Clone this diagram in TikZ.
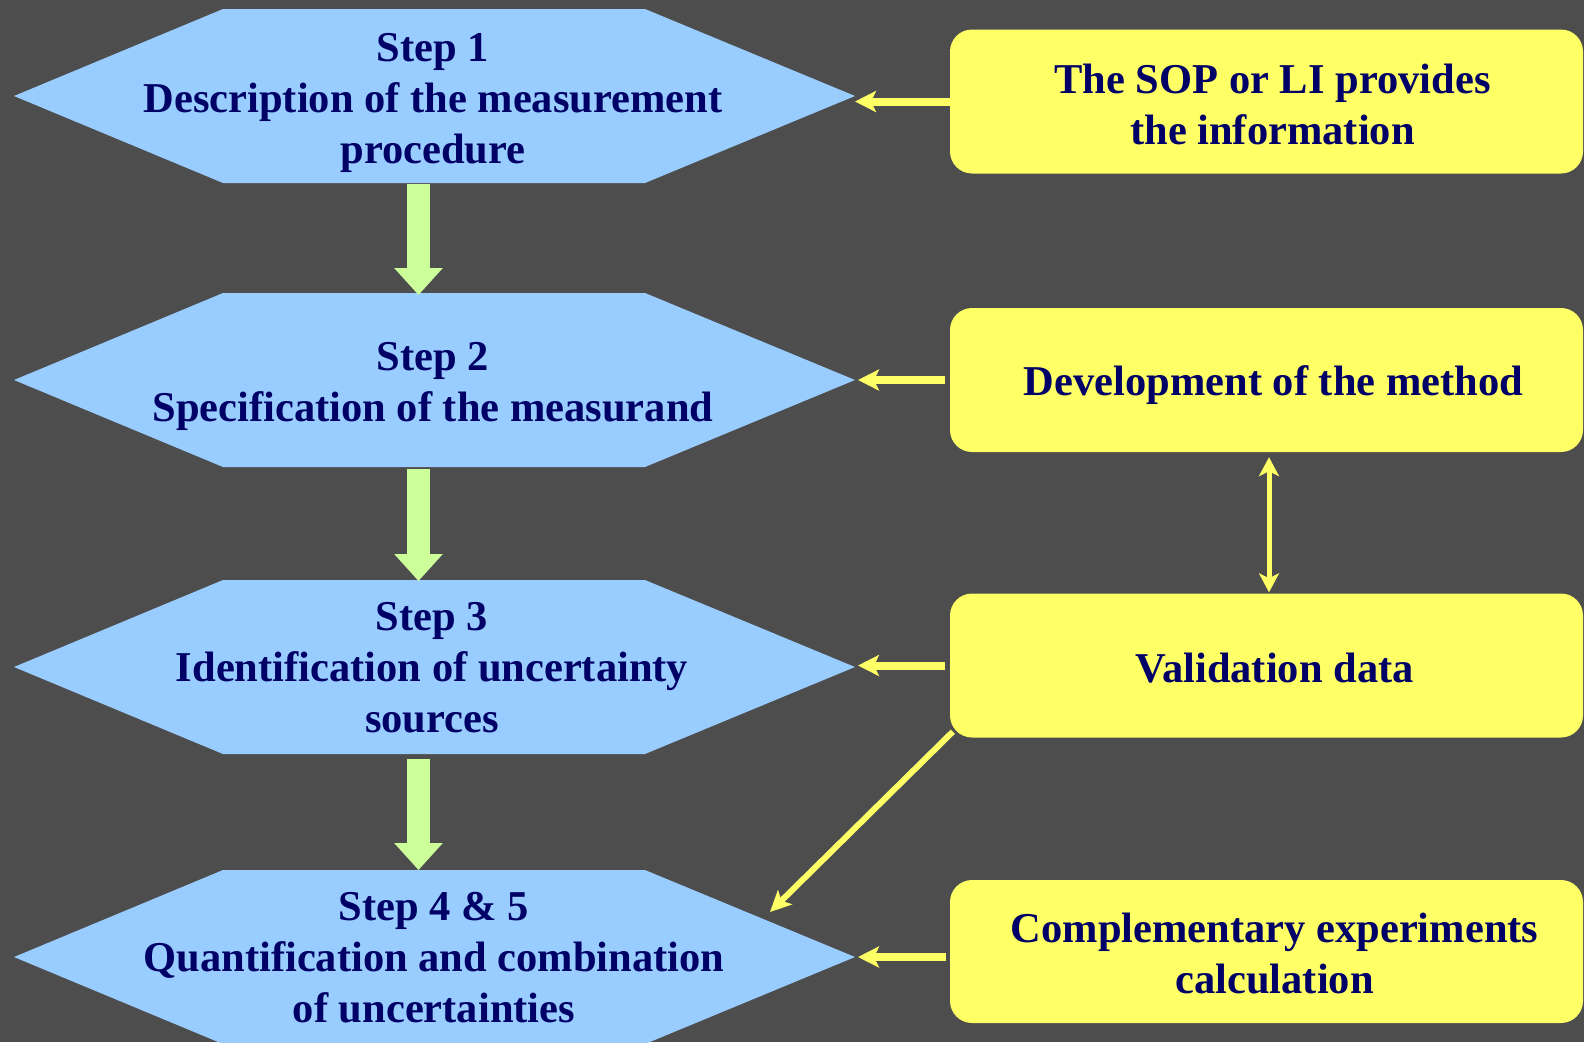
\documentclass[tikz,border=0pt]{standalone}
\usepackage{fontspec}
\setmainfont{Liberation Serif}
\usetikzlibrary{arrows.meta,calc}
\definecolor{bgc}{HTML}{4D4D4D}
\definecolor{hexc}{HTML}{99CCFF}
\definecolor{grn}{HTML}{CCFF99}
\definecolor{ylw}{HTML}{FFFF66}
\definecolor{navy}{HTML}{000066}
\begin{document}
\begin{tikzpicture}[x=1pt,y=-1pt,
  txt/.style={font=\bfseries\fontsize{42.5}{51}\selectfont, text=navy, align=center, inner sep=0pt},
  ybox/.style={fill=ylw, rounded corners=22pt, minimum width=633pt, minimum height=144pt, inner sep=0pt},
  garrow/.style={draw=grn, line width=23.3pt, -{Triangle[width=47pt,length=27pt]}},
  yarrow/.style={draw=ylw, line width=8pt, -{Stealth[width=21pt,length=21pt,inset=5pt]}},
  ydiag/.style={draw=ylw, line width=6pt, -{Stealth[width=20pt,length=21pt,inset=5pt]}},
  dyarrow/.style={draw=ylw, line width=5pt, {Stealth[width=20pt,length=19pt,inset=5pt]}-{Stealth[width=20pt,length=19pt,inset=5pt]}},
]
\fill[bgc] (0,0) rectangle (1584,1042);
\useasboundingbox (0,0) rectangle (1584,1042);

% hexagons
\foreach \n/\cy in {1/96,2/380,3/667,4/957} {
  \fill[hexc] (14,\cy) -- (223,\cy-87) -- (645,\cy-87) -- (855,\cy) -- (645,\cy+87) -- (223,\cy+87) -- cycle;
  \coordinate (h\n e) at (855,\cy);
  \coordinate (h\n t) at (418.5,\cy-87);
  \coordinate (h\n b) at (418.5,\cy+87);
}

\node[txt] (s1) at (433,103) {Step 1\\Description of the measurement\\procedure};
\node[txt] (s2) at (433,386) {Step 2\\Specification of the measurand};
\node[txt] (s3) at (432,668) {Step 3\\Identification of uncertainty\\sources};
\node[txt] (s4) at (434,958) {Step 4 \& 5\\Quantification and combination\\of uncertainties};

\node[ybox] (b1) at (1266.5,101.5) {};
\node[ybox] (b2) at (1266.5,380) {};
\node[ybox] (b3) at (1266.5,665.5) {};
\node[ybox, minimum height=143pt] (b4) at (1266.5,951.5) {};
\node[txt] (t1) at ($(b1)+(6,3)$) {The SOP or LI provides\\the information};
\node[txt] (t2) at ($(b2)+(7,5)$) {Development of the method};
\node[txt] (t3) at ($(b3)+(8,3)$) {Validation data};
\node[txt] (t4) at ($(b4)+(8,2)$) {Complementary experiments\\calculation};

% green step arrows
\draw[garrow] ($(h1b)+(0,1)$) -- ($(h2t)+(0,2)$);
\draw[garrow] ($(h2b)+(0,2)$) -- ($(h3t)+(0,1)$);
\draw[garrow] ($(h3b)+(0,5)$) -- (h4t);

% yellow arrows
\draw[yarrow] (b1.west) -- (b1.west -| h1e);
\draw[yarrow, shorten <=5pt] (b2.west) -- ($(b2.west -| h2e)+(3,0)$);
\draw[yarrow, shorten <=5pt] (b3.west) -- ($(b3.west -| h3e)+(3,0)$);
\draw[yarrow, shorten <=4pt] (b4.west |- h4e) -- ($(h4e)+(3,0)$);
\draw[dyarrow] ($(b2.south)+(2.5,5)$) -- ($(b3.north)+(2.5,-1)$);
\coordinate (dgend) at (770,912);
\draw[ydiag] ($(b3.south west)+(3,-6)$) -- (dgend);
\end{tikzpicture}
\end{document}
